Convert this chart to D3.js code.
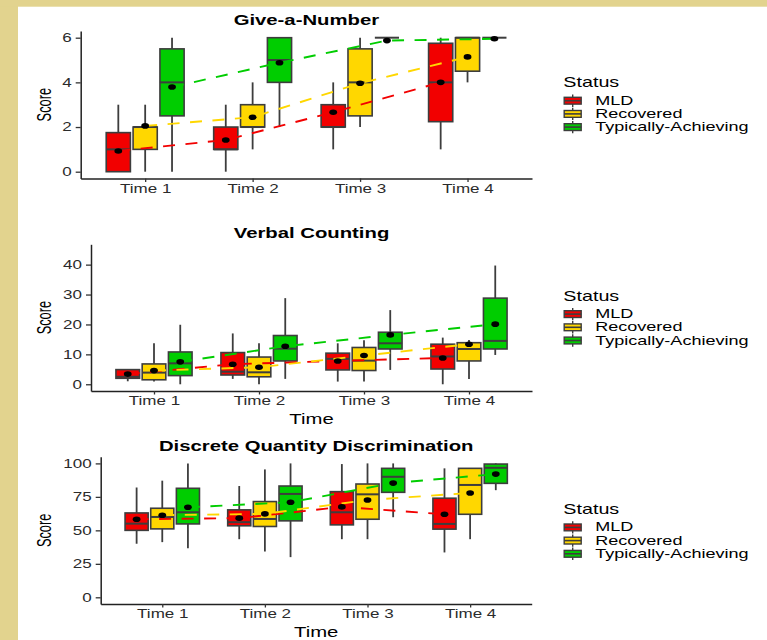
<!DOCTYPE html>
<html>
<head>
<meta charset="utf-8">
<script src="https://cdn.jsdelivr.net/npm/d3@7"></script>
<style>
  html, body { margin: 0; padding: 0; background: #ffffff; }
  svg { display: block; font-family: "Liberation Sans", Arial, Helvetica, sans-serif; }
</style>
</head>
<body>
<svg id="chart" width="767" height="640"></svg>
<script>
// ---- data ---------------------------------------------------------------
const timePoints = ["Time 1", "Time 2", "Time 3", "Time 4"];
const statusGroups = ["MLD", "Recovered", "Typically-Achieving"];
const statusColors = ["#F20000", "#FFD700", "#00CD00"];

// each entry: [lower whisker, Q1, median, Q3, upper whisker]
const gnMLD       = [[0, 0, 1, 1.75, 3], [0, 1, 1, 2, 3], [1, 2, 2, 3, 4], [1, 2.24, 4, 5.75, 6]];
const gnRecovered = [[0, 1, 2, 2, 3], [1, 2, 2, 3, 4], [2, 2.5, 4, 5.5, 6], [4, 4.5, 6, 6, 6]];
const gnTypical   = [[0, 2.5, 4, 5.5, 6], [2, 4, 5, 6, 6], [6, 6, 6, 6, 6], [6, 6, 6, 6, 6]];
const gnMLDMean       = [0.93, 1.42, 2.66, 4.0];
const gnRecoveredMean = [2.05, 2.44, 3.96, 5.14];
const gnTypicalMean   = [3.79, 4.88, 5.87, 5.95];
const gnTicks = [0, 2, 4, 6];

const vcMLD       = [[1, 2, 2.5, 4.9, 4.9], [1.8, 3.1, 4.2, 10.6, 17], [0.9, 4.8, 8.5, 10.4, 13.7], [0, 5.1, 9.3, 13.4, 15.6]];
const vcRecovered = [[0.9, 1.5, 3.9, 6.8, 13.7], [0, 2.5, 4, 9.1, 13.7], [0.9, 4.6, 7.9, 12.3, 14.7], [1.8, 7.8, 11.8, 13.9, 14.8]];
const vcTypical   = [[0, 2.9, 7, 10.8, 19.9], [1.8, 7.8, 11.9, 16.3, 28.8], [4.8, 11.8, 13.7, 17.4, 24.8], [9.8, 11.8, 14.5, 28.8, 39.7]];
const vcMLDMean       = [3.4, 6.7, 7.8, 8.8];
const vcRecoveredMean = [4.57, 5.7, 9.6, 13.4];
const vcTypicalMean   = [7.5, 12.7, 16.5, 20.1];
const vcTicks = [0, 10, 20, 30, 40];

const dqMLD       = [[40, 50, 55, 63, 82], [43.4, 53.4, 56.1, 65.3, 83.1], [43.4, 54.1, 63.5, 78.9, 99.5], [33.5, 50.9, 54.8, 74, 96.3]];
const dqRecovered = [[41.2, 51.1, 60, 66.5, 87.1], [34.2, 52.9, 58.5, 71.5, 95.5], [43.4, 58.3, 76.9, 84.6, 100], [43.4, 62, 83.9, 96.3, 96.3]];
const dqTypical   = [[36.7, 54.8, 63.5, 81.4, 100], [30, 57.1, 77.2, 83.1, 100], [59.8, 78.4, 90, 96.3, 100], [80, 85.1, 96.7, 99.5, 100]];
const dqMLDMean       = [58.3, 59.1, 67.5, 62.0];
const dqRecoveredMean = [61.3, 62.3, 72.7, 77.9];
const dqTypicalMean   = [67.2, 71.0, 85.3, 92.0];
const dqTicks = [0, 25, 50, 75, 100];

// ---- layout -------------------------------------------------------------
const SX = 1.42;           // horizontal text stretch
const OUTLINE = "#3d3d3d";

const panels = [
  { title: "Give-a-Number", boxes: [gnMLD, gnRecovered, gnTypical],
    means: [gnMLDMean, gnRecoveredMean, gnTypicalMean], ticks: gnTicks,
    domain: [-0.3, 6.3], x0: 80.7, x1: 532, top: 31, bottom: 178.4,
    titleY: 25, xTitleY: null, legendY: 87.3 },
  { title: "Verbal Counting", boxes: [vcMLD, vcRecovered, vcTypical],
    means: [vcMLDMean, vcRecoveredMean, vcTypicalMean], ticks: vcTicks,
    domain: [-2.25, 46.8], x0: 91, x1: 532, top: 244.3, bottom: 391,
    titleY: 237.7, xTitleY: 423.7, legendY: 300.7 },
  { title: "Discrete Quantity Discrimination", boxes: [dqMLD, dqRecovered, dqTypical],
    means: [dqMLDMean, dqRecoveredMean, dqTypicalMean], ticks: dqTicks,
    domain: [-5, 105], x0: 100.7, x1: 531.7, top: 456.7, bottom: 604,
    titleY: 450.7, xTitleY: 636.7, legendY: 514 }
];

const svg = d3.select("#chart");
svg.append("rect").attr("width", 767).attr("height", 640).attr("fill", "#ffffff");

// page frame
svg.append("rect").attr("x", 0).attr("y", 0).attr("width", 18).attr("height", 640).attr("fill", "#E2D38E");
svg.append("rect").attr("x", 0).attr("y", 0).attr("width", 767).attr("height", 6.7).attr("fill", "#E2D38E");

function label(g, x, y, str, size, opts = {}) {
  return g.append("text")
    .attr("transform", `translate(${x},${y}) scale(${opts.sx || SX},1)` + (opts.rotate ? ` rotate(${opts.rotate})` : ""))
    .attr("text-anchor", opts.anchor || "start")
    .attr("font-size", size)
    .attr("font-weight", opts.bold ? "bold" : "normal")
    .attr("fill", opts.fill || "#000")
    .text(str);
}

panels.forEach(p => {
  const g = svg.append("g");
  const x = d3.scalePoint().domain(timePoints).range([p.x0, p.x1]).padding(0.6);
  const y = d3.scaleLinear().domain(p.domain).range([p.bottom, p.top]);
  const step = x.step();
  const dodge = step * 0.25;
  const bw = step * 0.225;
  const cxOf = (gi, t) => x(timePoints[t]) + (gi - 1) * dodge;

  // boxplots
  p.boxes.forEach((series, gi) => {
    const bg = g.append("g");
    series.forEach((s, t) => {
      const cx = cxOf(gi, t);
      const [lo, q1, med, q3, hi] = s;
      bg.append("line")
        .attr("x1", cx).attr("x2", cx).attr("y1", y(lo)).attr("y2", y(hi))
        .attr("stroke", OUTLINE).attr("stroke-width", 1.8);
      bg.append("rect")
        .attr("x", cx - bw / 2).attr("width", bw)
        .attr("y", y(q3)).attr("height", Math.max(0, y(q1) - y(q3)))
        .attr("fill", statusColors[gi]).attr("stroke", OUTLINE).attr("stroke-width", 1.6);
      bg.append("line")
        .attr("x1", cx - bw / 2).attr("x2", cx + bw / 2).attr("y1", y(med)).attr("y2", y(med))
        .attr("stroke", OUTLINE).attr("stroke-width", 2);
    });
  });

  // dashed lines joining group means
  const line = d3.line().x(d => d[0]).y(d => d[1]);
  p.means.forEach((m, gi) => {
    g.append("path")
      .attr("d", line(m.map((v, t) => [cxOf(gi, t), y(v)])))
      .attr("fill", "none").attr("stroke", statusColors[gi])
      .attr("stroke-width", 1.9).attr("stroke-dasharray", "12,10.5");
  });

  // mean points
  p.means.forEach((m, gi) => {
    m.forEach((v, t) => {
      g.append("ellipse").attr("cx", cxOf(gi, t)).attr("cy", y(v))
        .attr("rx", 3.9).attr("ry", 2.8).attr("fill", "#000");
    });
  });

  // axes
  const ya = g.append("g").attr("transform", `translate(${p.x0},0)`)
    .call(d3.axisLeft(y).tickValues(p.ticks).tickFormat(d3.format("d"))
      .tickSize(5).tickPadding(4).tickSizeOuter(0));
  const xa = g.append("g").attr("transform", `translate(0,${p.bottom})`)
    .call(d3.axisBottom(x).tickSize(3.5).tickPadding(2.4).tickSizeOuter(0));
  [ya, xa].forEach(a => {
    a.select(".domain").attr("stroke", "#222").attr("stroke-width", 1.5);
    a.selectAll(".tick line").attr("stroke", "#333").attr("stroke-width", 1.3);
    a.selectAll(".tick text").attr("fill", "#2b2b2b").attr("font-size", 12)
      .attr("font-family", "\"Liberation Sans\", Arial, Helvetica, sans-serif");
  });
  ya.selectAll(".tick text").attr("x", null).attr("transform", `translate(-9,0) scale(${SX},1)`);
  xa.selectAll(".tick text").attr("transform", `scale(${SX},1)`);

  // titles
  const mid = (p.x0 + p.x1) / 2;
  label(g, mid, p.titleY, p.title, 14.3, { anchor: "middle", bold: true });
  if (p.xTitleY) label(g, mid, p.xTitleY, "Time", 14.3, { anchor: "middle" });
  label(g, 51, (p.top + p.bottom) / 2, "Score", 12.8, { anchor: "middle", rotate: -90, sx: 1.6 });

  // legend
  label(g, 563.3, p.legendY, "Status", 13.9);
  statusGroups.forEach((name, k) => {
    const cy = p.legendY + 13.4 + 13.2 * k;
    const kx = 572.7;
    g.append("line").attr("x1", kx).attr("x2", kx).attr("y1", cy - 6.2).attr("y2", cy + 6.2)
      .attr("stroke", OUTLINE).attr("stroke-width", 1.4);
    g.append("rect").attr("x", 564.2).attr("y", cy - 3.4).attr("width", 17).attr("height", 6.8)
      .attr("fill", statusColors[k]).attr("stroke", OUTLINE).attr("stroke-width", 1.4);
    g.append("line").attr("x1", 564.2).attr("x2", 581.2).attr("y1", cy).attr("y2", cy)
      .attr("stroke", OUTLINE).attr("stroke-width", 1.6);
    label(g, 595.3, cy + 4, name, 12.7);
  });
});
</script>
</body>
</html>
